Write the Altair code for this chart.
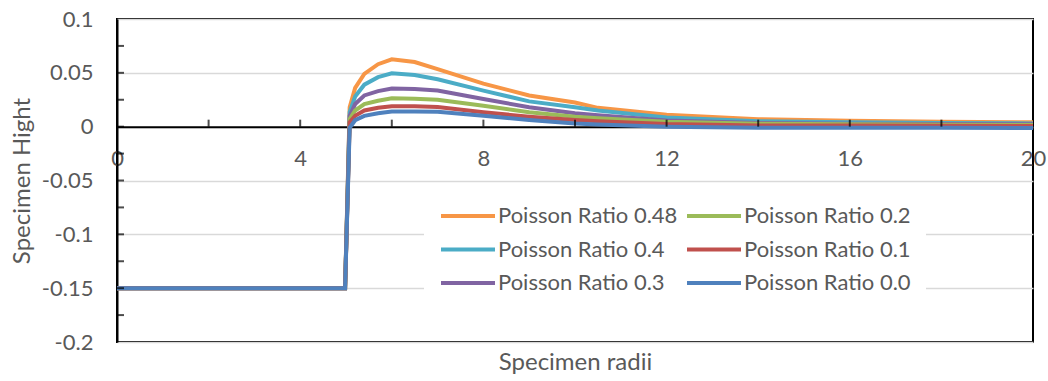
import altair as alt
import pandas as pd

# Radial positions sampled along the specimen
radius = [0, 4.98, 5.08, 5.2, 5.4, 5.7, 6.0, 6.5, 7.0, 8.0, 9.0, 10.0, 10.5, 12.0, 14.0, 16.0, 18.0, 20.0]

# Specimen height for each Poisson ratio (drawn in this order, last on top)
series_names = [
    "Poisson Ratio 0.48",
    "Poisson Ratio 0.4",
    "Poisson Ratio 0.3",
    "Poisson Ratio 0.2",
    "Poisson Ratio 0.1",
    "Poisson Ratio 0.0",
]
series_colors = ["#F79646", "#4BACC6", "#8064A2", "#9BBB59", "#C0504D", "#4F81BD"]

h_048 = [-0.15, -0.15, 0.018, 0.036, 0.049, 0.058, 0.0625, 0.060, 0.0535, 0.0400, 0.0290, 0.0225, 0.0175, 0.0110, 0.0070, 0.0055, 0.0045, 0.0040]
h_040 = [-0.15, -0.15, 0.0135, 0.028, 0.039, 0.046, 0.0495, 0.048, 0.044, 0.0335, 0.0235, 0.0180, 0.0150, 0.0085, 0.0050, 0.0040, 0.0035, 0.0030]
h_030 = [-0.15, -0.15, 0.010, 0.021, 0.029, 0.033, 0.0355, 0.035, 0.0335, 0.0257, 0.0180, 0.0125, 0.0105, 0.0058, 0.0035, 0.0028, 0.0024, 0.0022]
h_020 = [-0.15, -0.15, 0.007, 0.015, 0.021, 0.024, 0.0263, 0.026, 0.0250, 0.0195, 0.0133, 0.0093, 0.0078, 0.0045, 0.0028, 0.0022, 0.0018, 0.0016]
h_010 = [-0.15, -0.15, 0.004, 0.010, 0.015, 0.0175, 0.0190, 0.019, 0.0182, 0.0133, 0.0093, 0.0062, 0.0050, 0.0025, 0.0012, 0.0010, 0.0008, 0.0007]
h_000 = [-0.15, -0.15, -0.001, 0.006, 0.010, 0.0125, 0.0140, 0.0142, 0.0138, 0.0102, 0.0062, 0.0030, 0.0020, 0.0000, -0.0010, -0.0010, -0.0010, -0.0012]
heights = [h_048, h_040, h_030, h_020, h_010, h_000]

# Axis values
x_labels = [0, 4, 8, 12, 16, 20]
x_ticks = [2, 4, 6, 8, 10, 12, 14, 16, 18]
y_labels = [-0.2, -0.15, -0.1, -0.05, 0, 0.05, 0.1]
y_ticks = [-0.175, -0.15, -0.125, -0.1, -0.075, -0.05, -0.025, 0, 0.025, 0.05, 0.075]

rows = []
for name, ys in zip(series_names, heights):
    for i, (r, h) in enumerate(zip(radius, ys)):
        rows.append({"series": name, "radius": r, "height": h, "idx": i})
df = pd.DataFrame(rows)

FONT = "Lato"
TEXT = "#595959"
W, H = 916, 323

x_scale = alt.Scale(domain=[0, 20], nice=False, zero=False)
y_scale = alt.Scale(domain=[-0.2, 0.1], nice=False, zero=False)

lines = alt.Chart(df).mark_line(strokeWidth=4, interpolate="linear").encode(
    x=alt.X(
        "radius:Q",
        scale=x_scale,
        axis=alt.Axis(
            title="Specimen radii",
            values=x_labels,
            labelExpr="'' + datum.value",
            offset=-(H * 2 / 3),
            ticks=False,
            grid=False,
            domainColor="black",
            domainWidth=2,
            labelFont=FONT,
            labelFontSize=22,
            labelColor=TEXT,
            labelPadding=22,
            labelFlush=False,
            titleFont=FONT,
            titleFontSize=24,
            titleFontWeight="normal",
            titleColor=TEXT,
            titleBaseline="top",
            titleY=224,
        ),
    ),
    y=alt.Y(
        "height:Q",
        scale=y_scale,
        axis=alt.Axis(
            title="Specimen Hight",
            values=y_labels,
            labelExpr="'' + datum.value",
            ticks=False,
            grid=True,
            gridColor="#d9d9d9",
            gridWidth=1.5,
            domainColor="black",
            domainWidth=2,
            labelFont=FONT,
            labelFontSize=22,
            labelColor=TEXT,
            labelPadding=24,
            labelFlush=False,
            titleFont=FONT,
            titleFontSize=24,
            titleFontWeight="normal",
            titleColor=TEXT,
            titleAngle=-90,
            titleAlign="center",
            titleBaseline="middle",
            titleX=-95,
            titleY=H / 2,
        ),
    ),
    color=alt.Color(
        "series:N",
        scale=alt.Scale(domain=series_names, range=series_colors),
        title=None,
        legend=alt.Legend(
            orient="none",
            legendX=307,
            legendY=171,
            columns=2,
            # a flat stroke 54px long, sitting to the left of each label
            symbolType="M-1,0H5",
            symbolSize=324,
            symbolStrokeWidth=4,
            labelFont=FONT,
            labelFontSize=22,
            labelColor=TEXT,
            labelOffset=37,
            labelLimit=300,
            rowPadding=11.5,
            columnPadding=1,
            padding=15,
            fillColor="white",
        ),
    ),
    order=alt.Order("idx:Q"),
)

# Inside tick marks along the y axis and upward ticks on the zero line
y_tick_df = pd.DataFrame({"v": y_ticks})
x_tick_df = pd.DataFrame({"v": x_ticks})

y_tick_marks = alt.Chart(y_tick_df).mark_tick(
    orient="horizontal", color="black", size=7, thickness=2
).encode(y=alt.Y("v:Q", scale=y_scale), x=alt.value(3.5))

x_tick_marks = alt.Chart(x_tick_df).mark_tick(
    orient="vertical", color="black", size=7, thickness=2, yOffset=-3.5
).encode(x=alt.X("v:Q", scale=x_scale), y=alt.datum(0, scale=y_scale))

chart = (
    alt.layer(lines, y_tick_marks, x_tick_marks)
    .properties(
        width=W,
        height=H,
        autosize=alt.AutoSizeParams(type="none"),
        padding={"left": 117, "top": 19, "right": 15, "bottom": 39},
        background="white",
    )
    .configure_view(stroke="black", strokeWidth=2)
)

chart.save("out.html", embed_options={"renderer": "svg", "actions": False})
